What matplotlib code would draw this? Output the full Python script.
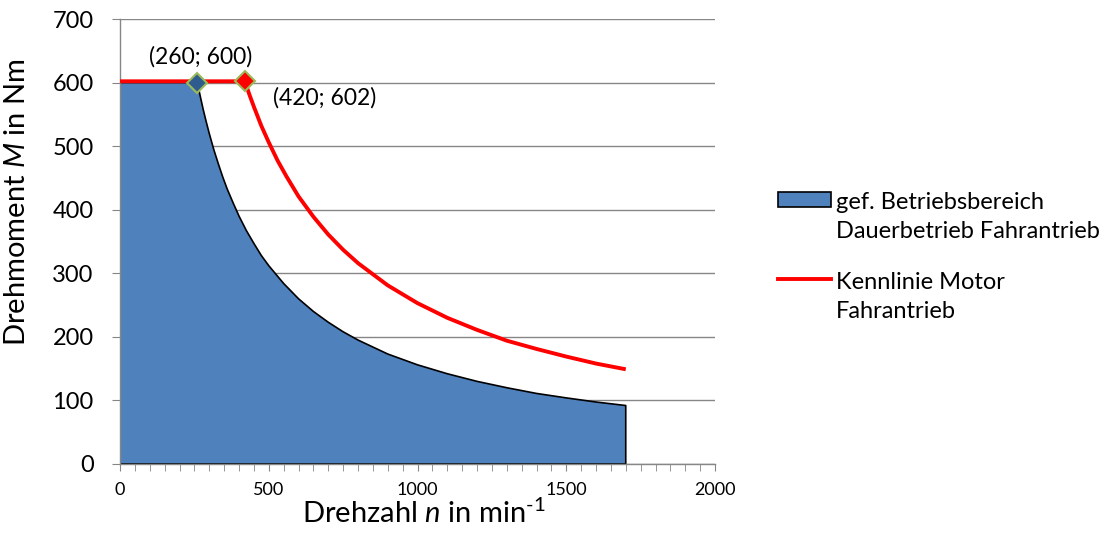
import matplotlib
matplotlib.use("Agg")
import matplotlib.pyplot as plt
from matplotlib.patches import Rectangle
from matplotlib.lines import Line2D
from matplotlib.ticker import MultipleLocator

plt.rcParams['font.family'] = ['Lato', 'DejaVu Sans']
plt.rcParams['mathtext.fontset'] = 'custom'
plt.rcParams['mathtext.rm'] = 'Lato'
plt.rcParams['mathtext.it'] = 'Lato:italic'

# Dauerbetrieb area boundary (n in min^-1, M in Nm)
area_n = [0, 260, 270, 280, 290, 300, 315, 330, 345, 360, 380, 400, 425, 450, 475,
          500, 550, 600, 650, 700, 750, 800, 900, 1000, 1100, 1200, 1300, 1400,
          1500, 1600, 1700]
area_m = [600, 600, 578, 557, 538, 520, 495, 473, 452, 433, 411, 390, 367, 347, 328,
          312, 284, 260, 240, 223, 208, 195, 173, 156, 142, 130, 120, 111,
          104, 97.5, 92]

# Motor characteristic
motor_n = [0, 420, 435, 450, 475, 500, 530, 560, 600, 650, 700, 750, 800, 900,
           1000, 1100, 1200, 1300, 1400, 1500, 1600, 1700]
motor_m = [602, 602, 581, 562, 532, 506, 477, 452, 421, 389, 361, 337, 316, 281,
           253, 230, 211, 194, 181, 169, 158, 149]

corner_pts = [(260, 600), (420, 602)]
corner_labels = ["(260; 600)", "(420; 602)"]

legend_labels = ["gef. Betriebsbereich\nDauerbetrieb Fahrantrieb",
                 "Kennlinie Motor\nFahrantrieb"]

grid_c = '#868686'
blue = '#4F81BD'
red = '#FF0000'
W, H = 1116, 535

fig = plt.figure(figsize=(W / 100, H / 100), dpi=100)
ax = fig.add_axes([120 / W, 1 - 464 / H, 595 / W, 445 / H])

poly_x = area_n + [area_n[-1], area_n[0]]
poly_y = area_m + [0, 0]
ax.fill(poly_x, poly_y, facecolor=blue, edgecolor='black', linewidth=1.2,
        joinstyle='round', zorder=2)
ax.plot(motor_n, motor_m, color=red, linewidth=2.8, zorder=3, solid_capstyle='butt')

ax.plot(*corner_pts[0], marker='D', markersize=10, markerfacecolor='#2F5C8F',
        markeredgecolor='#9BBB59', markeredgewidth=1.5, zorder=4)
ax.plot(*corner_pts[1], marker='D', markersize=10, markerfacecolor=red,
        markeredgecolor='#9BBB59', markeredgewidth=1.5, zorder=4)

ax.text(272, 640, corner_labels[0], ha='center', va='center', fontsize=16.5)
ax.text(514, 576, corner_labels[1], ha='left', va='center', fontsize=16.5)

ax.set_xlim(0, 2000)
ax.set_ylim(0, 700)
ax.xaxis.set_major_locator(MultipleLocator(500))
ax.xaxis.set_minor_locator(MultipleLocator(50))
ax.yaxis.set_major_locator(MultipleLocator(100))
ax.yaxis.grid(True, color=grid_c, linewidth=1.0, zorder=0)
ax.set_axisbelow(True)
for s in ['top', 'right']:
    ax.spines[s].set_visible(False)
for s in ['left', 'bottom']:
    ax.spines[s].set_color(grid_c)
    ax.spines[s].set_linewidth(1.0)
ax.tick_params(axis='both', which='both', color=grid_c, direction='out')
ax.tick_params(axis='x', which='major', length=5, labelsize=13, pad=8)
ax.tick_params(axis='x', which='minor', length=5)
ax.tick_params(axis='y', which='major', length=5.5, labelsize=17, pad=13.5)

ax.set_xlabel(r'Drehzahl $n$ in min$^{\text{-1}}$', fontsize=21)
ax.xaxis.label.set_va('center')
ax.xaxis.set_label_coords(0.51, (464 - 513) / 445)
ax.set_ylabel(r'Drehmoment $M$ in Nm', fontsize=21)
ax.yaxis.label.set_va('center')
ax.yaxis.set_label_coords((17 - 120) / 595, (464 - 202) / 445)

# Legend (handles aligned with the first text line, as in the original)
def fx(px):
    return px / W

def fy(py):
    return 1 - py / H

fig.patches.append(Rectangle((fx(778), fy(207)), fx(831) - fx(778), fy(192) - fy(207),
                             transform=fig.transFigure, facecolor=blue,
                             edgecolor='black', linewidth=1.2))
fig.lines.append(Line2D([fx(778), fx(831)], [fy(279), fy(279)],
                        transform=fig.transFigure, color=red, linewidth=2.8))
fig.text(fx(836), fy(238), legend_labels[0], ha='left', va='baseline',
         fontsize=17, linespacing=1.45)
fig.text(fx(836), fy(318), legend_labels[1], ha='left', va='baseline',
         fontsize=17, linespacing=1.45)

fig.savefig('out.png', dpi=100)
